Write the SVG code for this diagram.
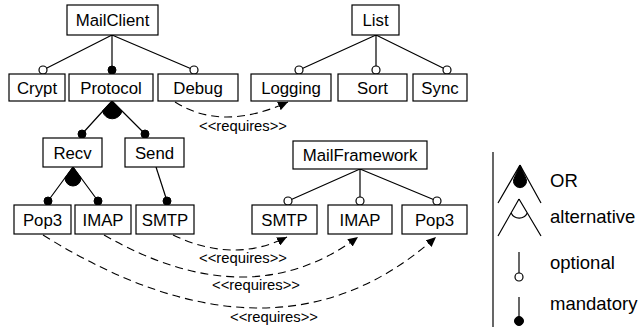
<svg xmlns="http://www.w3.org/2000/svg" width="638" height="329" viewBox="0 0 638 329">
  <style>
    .box { fill: #fff; stroke: #000; stroke-width: 1.2; }
    .lbl { font-family: "Liberation Sans", Arial, sans-serif; font-size: 16.8px; fill: #000; text-anchor: middle; }
    .req { font-family: "Liberation Sans", Arial, sans-serif; font-size: 14.8px; fill: #000; text-anchor: middle; }
    .leg { font-family: "Liberation Sans", Arial, sans-serif; font-size: 18.5px; fill: #000; }
    .edge { fill: none; stroke: #000; stroke-width: 1.2; }
    .dash { fill: none; stroke: #000; stroke-width: 1.1; stroke-dasharray: 8 5; }
    .opt { fill: #fff; stroke: #000; stroke-width: 1.2; }
    .man { fill: #000; stroke: #000; stroke-width: 1; }
    .orfill { fill: #000; stroke: #000; stroke-width: 1; }
  </style>
  <defs>
    <marker id="arrow" markerUnits="userSpaceOnUse" markerWidth="11" markerHeight="9" refX="10" refY="4.5" orient="auto">
      <path d="M0,0 L10,4.5 L0,9 z" fill="#000"/>
    </marker>
  </defs>

  <!-- tree edges -->
  <g id="connectors">
    <path class="edge" d="M112,35 L43,70 M112,35 L112,70 M112,35 L194,70"/>
    <path class="edge" d="M376,35 L299,70 M376,35 L376,70 M376,35 L447,70"/>
    <path class="edge" d="M112,101 L82,134 M112,101 L145,134"/>
    <!-- OR group: cone with rounded bottom -->
    <path class="orfill" d="M112,101 L102.5,111 A10,10 0 0 0 122,111 Z"/>
    <path class="edge" d="M73,167 L48,201 M73,167 L98,201"/>
    <path class="orfill" d="M73,167 L65,178 A8,8 0 0 0 81,178 Z"/>
    <path class="edge" d="M156,167 L167,201"/>
    <path class="edge" d="M360,169 L288,201 M360,169 L360,201 M360,169 L437,201"/>

    <!-- optional markers -->
    <circle class="opt" cx="43" cy="70" r="4"/>
    <circle class="opt" cx="194" cy="70" r="4"/>
    <circle class="opt" cx="299" cy="70" r="4"/>
    <circle class="opt" cx="376" cy="70" r="4"/>
    <circle class="opt" cx="447" cy="70" r="4"/>
    <circle class="opt" cx="288" cy="201" r="4"/>
    <circle class="opt" cx="360" cy="201" r="4"/>
    <circle class="opt" cx="437" cy="201" r="4"/>
    <!-- mandatory markers -->
    <circle class="man" cx="112" cy="70" r="4"/>
    <circle class="man" cx="82" cy="134" r="4"/>
    <circle class="man" cx="145" cy="134" r="4"/>
    <circle class="man" cx="48" cy="201" r="4"/>
    <circle class="man" cx="98" cy="201" r="4"/>
    <circle class="man" cx="167" cy="201" r="4"/>

    <!-- requires dependencies -->
    <path class="dash" d="M175,102 Q222,132 288,102" marker-end="url(#arrow)"/>
    <path class="dash" d="M173,235 Q234,264 287,237" marker-end="url(#arrow)"/>
    <path class="dash" d="M104,235 Q249,318 358,237" marker-end="url(#arrow)"/>
    <path class="dash" d="M43,235 Q276,380 436,237" marker-end="url(#arrow)"/>
    <text class="req" x="243" y="131">&lt;&lt;requires&gt;&gt;</text>
    <text class="req" x="243" y="263">&lt;&lt;requires&gt;&gt;</text>
    <text class="req" x="256" y="290">&lt;&lt;requires&gt;&gt;</text>
    <text class="req" x="274" y="322">&lt;&lt;requires&gt;&gt;</text>
  </g>

  <!-- features -->
  <g id="MailClient"><rect class="box" x="67" y="5" width="91" height="30"/><text class="lbl" x="112.5" y="26">MailClient</text></g>
  <g id="List"><rect class="box" x="352" y="5" width="47" height="30"/><text class="lbl" x="375.5" y="26">List</text></g>
  <g id="Crypt"><rect class="box" x="9" y="74" width="56" height="27"/><text class="lbl" x="37" y="93.5">Crypt</text></g>
  <g id="Protocol"><rect class="box" x="69" y="74" width="84" height="27"/><text class="lbl" x="111" y="93.5">Protocol</text></g>
  <g id="Debug"><rect class="box" x="158" y="74" width="80" height="27"/><text class="lbl" x="198" y="93.5">Debug</text></g>
  <g id="Logging"><rect class="box" x="251" y="74" width="80" height="27"/><text class="lbl" x="291" y="93.5">Logging</text></g>
  <g id="Sort"><rect class="box" x="338" y="74" width="69" height="27"/><text class="lbl" x="372.5" y="93.5">Sort</text></g>
  <g id="Sync"><rect class="box" x="413" y="74" width="54" height="27"/><text class="lbl" x="440" y="93.5">Sync</text></g>
  <g id="Recv"><rect class="box" x="43" y="138" width="59" height="29"/><text class="lbl" x="72.5" y="158.5">Recv</text></g>
  <g id="Send"><rect class="box" x="125" y="138" width="59" height="29"/><text class="lbl" x="154.5" y="158.5">Send</text></g>
  <g id="MailFramework"><rect class="box" x="293" y="141" width="134" height="28"/><text class="lbl" x="360" y="161">MailFramework</text></g>
  <g id="Pop3"><rect class="box" x="14" y="205" width="57" height="29"/><text class="lbl" x="42.5" y="225.5">Pop3</text></g>
  <g id="IMAP"><rect class="box" x="75" y="205" width="56" height="29"/><text class="lbl" x="103" y="225.5">IMAP</text></g>
  <g id="SMTP"><rect class="box" x="136" y="205" width="58" height="29"/><text class="lbl" x="165" y="225.5">SMTP</text></g>
  <g id="MF_SMTP"><rect class="box" x="252" y="205" width="65" height="29"/><text class="lbl" x="284.5" y="225.5">SMTP</text></g>
  <g id="MF_IMAP"><rect class="box" x="328" y="205" width="64" height="29"/><text class="lbl" x="360" y="225.5">IMAP</text></g>
  <g id="MF_Pop3"><rect class="box" x="402" y="205" width="65" height="29"/><text class="lbl" x="434.5" y="225.5">Pop3</text></g>

  <!-- legend -->
  <g id="legend">
    <line class="edge" x1="493" y1="152" x2="493" y2="327"/>
    <path class="edge" d="M520,165 L498,203 M520,165 L541,203"/>
    <path class="orfill" d="M520,165 L514.1,178.4 A6.5,6.5 0 1 0 525.9,178.4 Z"/>
    <text class="leg" x="550" y="187">OR</text>
    <path class="edge" d="M519,199 L498,236 M519,199 L541,236"/>
    <path class="edge" d="M511.1,213 A9,9 0 0 0 527.3,213"/>
    <text class="leg" x="550" y="223">alternative</text>
    <line class="edge" x1="519" y1="252" x2="519" y2="273"/>
    <circle class="opt" cx="519" cy="277" r="4"/>
    <text class="leg" x="550" y="269">optional</text>
    <line class="edge" x1="519" y1="297" x2="519" y2="317"/>
    <circle class="man" cx="519" cy="321" r="4.5"/>
    <text class="leg" x="550" y="310">mandatory</text>
  </g>
</svg>
